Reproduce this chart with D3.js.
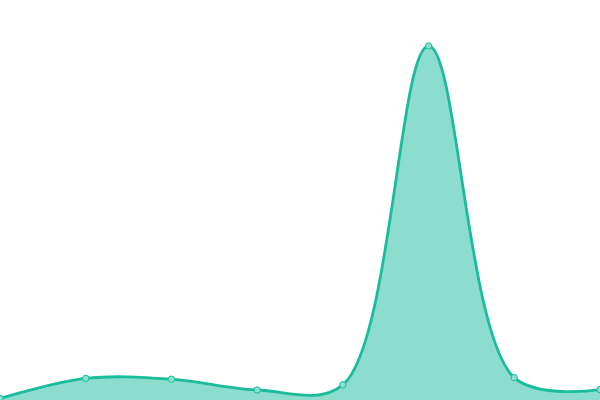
<!DOCTYPE html>
<html><head><meta charset="utf-8">
<script src="https://cdn.jsdelivr.net/npm/d3@7"></script>
<style>html,body{margin:0;padding:0;background:#fff;overflow:hidden}</style>
</head><body>
<svg id="c" width="600" height="400"></svg>
<script>
const categories = ["1","2","3","4","5","6","7","8"];
const values = [0.4, 5.4, 5.2, 2.5, 3.8, 88.5, 5.6, 2.6];

const W = 600, H = 400;
const svg = d3.select("#c");
const x = d3.scalePoint().domain(categories).range([0, W]);
const y = d3.scaleLinear().domain([0, 100]).range([H, 0]);
const curve = d3.curveCatmullRom.alpha(0.5);

const area = d3.area().x((d,i)=>x(categories[i])).y0(H).y1(d=>y(d)).curve(curve);
const line = d3.line().x((d,i)=>x(categories[i])).y(d=>y(d)).curve(curve);

svg.append("path").datum(values).attr("d", area).attr("fill", "#1abc9c").attr("fill-opacity", 0.5);
svg.append("path").datum(values).attr("d", line).attr("fill", "none").attr("stroke", "#1abc9c").attr("stroke-width", 2.8);
svg.selectAll("circle").data(values).join("circle")
  .attr("cx", (d,i)=>x(categories[i])).attr("cy", d=>y(d)).attr("r", 3.2)
  .attr("fill", "#8ce0cf").attr("stroke", "#1abc9c").attr("stroke-width", 1);
</script>
</body></html>
